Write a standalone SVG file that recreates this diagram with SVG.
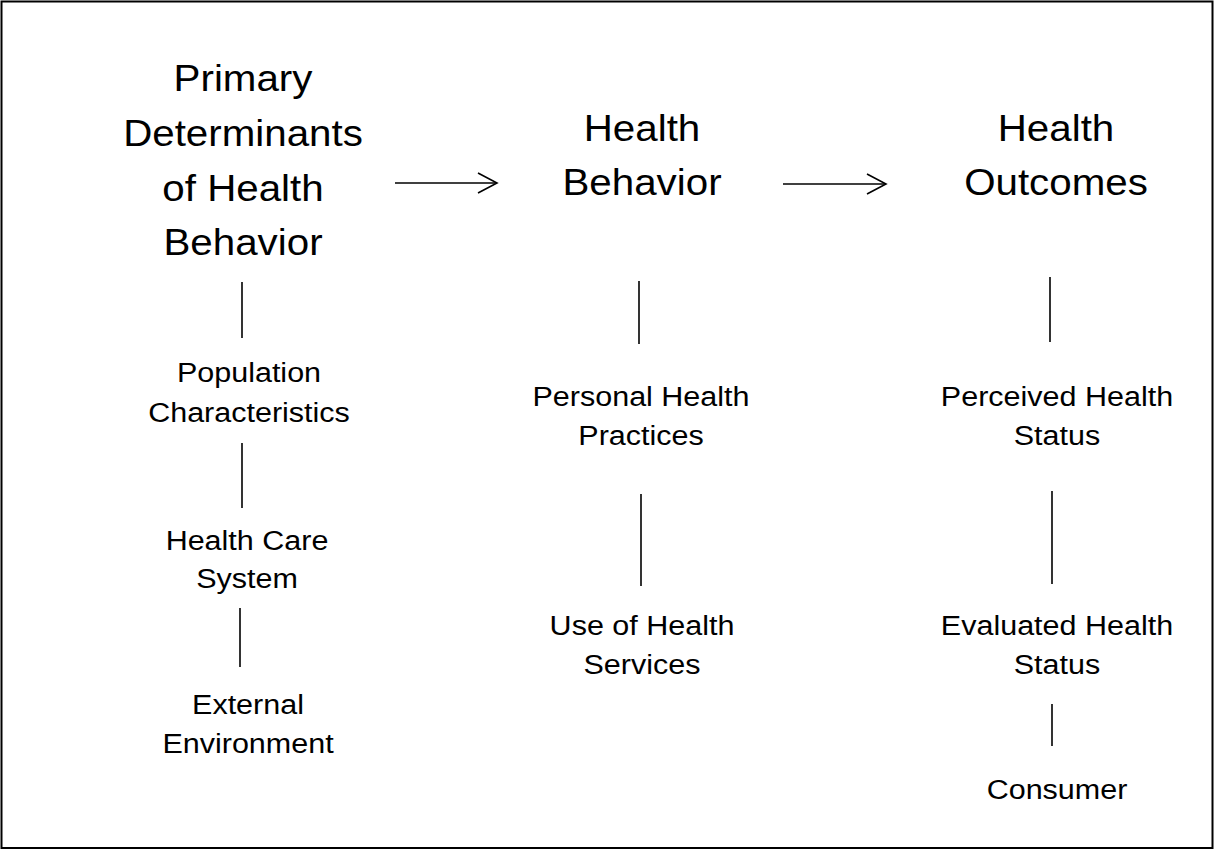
<svg xmlns="http://www.w3.org/2000/svg" width="1214" height="850" viewBox="0 0 1214 850">
<style>
text{font-family:"Liberation Sans",Arial,sans-serif;fill:#000;text-anchor:middle}
.big{font-size:37px}
.small{font-size:28px}
.ln{stroke:#000;stroke-width:1.6;fill:none}
</style>
<rect x="1.5" y="1.5" width="1211" height="846.5" fill="#fff" stroke="#000" stroke-width="2"/>
<g id="primary-determinants" transform="translate(243,0) scale(1.09,1)">
<text class="big" x="0" y="91">Primary</text>
<text class="big" x="0" y="146">Determinants</text>
<text class="big" x="0" y="201">of Health</text>
<text class="big" x="0" y="255">Behavior</text>
</g>
<g id="health-behavior" transform="translate(642,0) scale(1.09,1)">
<text class="big" x="0" y="141">Health</text>
<text class="big" x="0" y="195">Behavior</text>
</g>
<g id="health-outcomes" transform="translate(1056,0) scale(1.09,1)">
<text class="big" x="0" y="141">Health</text>
<text class="big" x="0" y="195">Outcomes</text>
</g>
<g id="population-characteristics" transform="translate(249,0) scale(1.09,1)">
<text class="small" x="0" y="382">Population</text>
<text class="small" x="0" y="422">Characteristics</text>
</g>
<g id="health-care-system" transform="translate(247,0) scale(1.09,1)">
<text class="small" x="0" y="550">Health Care</text>
<text class="small" x="0" y="588">System</text>
</g>
<g id="external-environment" transform="translate(248,0) scale(1.09,1)">
<text class="small" x="0" y="714">External</text>
<text class="small" x="0" y="753">Environment</text>
</g>
<g id="personal-health-practices" transform="translate(641,0) scale(1.09,1)">
<text class="small" x="0" y="406">Personal Health</text>
<text class="small" x="0" y="445">Practices</text>
</g>
<g id="use-of-health-services" transform="translate(642,0) scale(1.09,1)">
<text class="small" x="0" y="635">Use of Health</text>
<text class="small" x="0" y="674">Services</text>
</g>
<g id="perceived-health-status" transform="translate(1057,0) scale(1.09,1)">
<text class="small" x="0" y="406">Perceived Health</text>
<text class="small" x="0" y="445">Status</text>
</g>
<g id="evaluated-health-status" transform="translate(1057,0) scale(1.09,1)">
<text class="small" x="0" y="635">Evaluated Health</text>
<text class="small" x="0" y="674">Status</text>
</g>
<g id="consumer" transform="translate(1057,0) scale(1.09,1)">
<text class="small" x="0" y="799">Consumer</text>
</g>
<g id="connectors">
<line class="ln" x1="395" y1="183" x2="497" y2="183" stroke-width="2"/>
<polyline class="ln" points="478,173 497,183 478,193" stroke-width="2"/>
<line class="ln" x1="783" y1="184" x2="886" y2="184" stroke-width="2"/>
<polyline class="ln" points="867,174 886,184 867,194" stroke-width="2"/>
<line class="ln" x1="242" y1="282" x2="242" y2="338"/>
<line class="ln" x1="242" y1="443" x2="242" y2="508"/>
<line class="ln" x1="240" y1="608" x2="240" y2="667"/>
<line class="ln" x1="639" y1="281" x2="639" y2="344"/>
<line class="ln" x1="641" y1="494" x2="641" y2="586"/>
<line class="ln" x1="1050" y1="277" x2="1050" y2="342"/>
<line class="ln" x1="1052" y1="491" x2="1052" y2="584"/>
<line class="ln" x1="1052" y1="704" x2="1052" y2="746"/>
</g>
</svg>
